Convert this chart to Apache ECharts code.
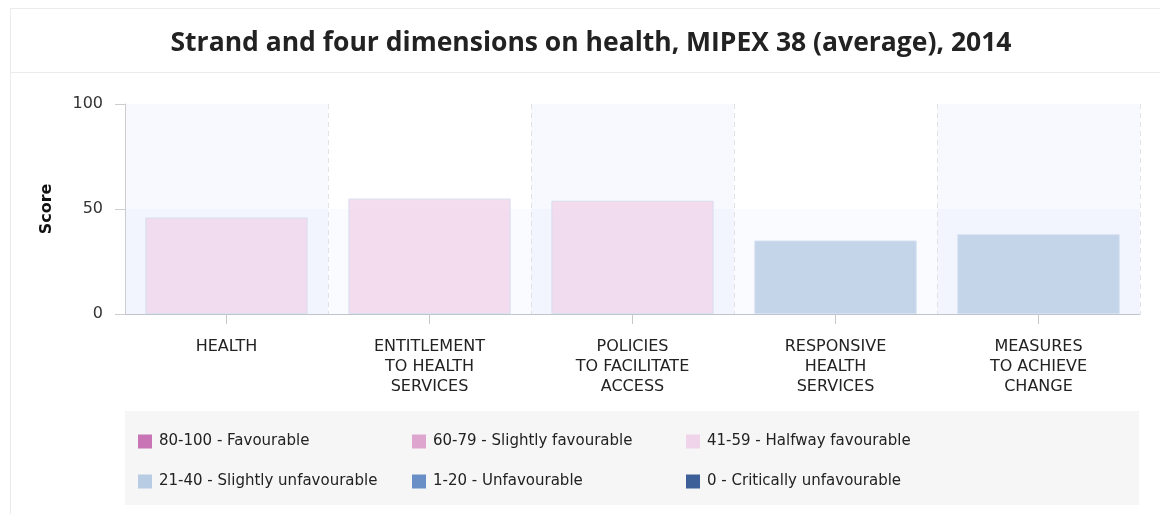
<!DOCTYPE html>
<html>
<head>
<meta charset="utf-8">
<script src="https://cdn.jsdelivr.net/npm/echarts@6/dist/echarts.min.js"></script>
<style>
  html, body { margin: 0; padding: 0; background: #fff; }
  #chart { width: 1160px; height: 514px; }
</style>
</head>
<body>
<div id="chart"></div>
<script>
// ---- data ----
var categories = [
  'HEALTH',
  'ENTITLEMENT\nTO HEALTH\nSERVICES',
  'POLICIES\nTO FACILITATE\nACCESS',
  'RESPONSIVE\nHEALTH\nSERVICES',
  'MEASURES\nTO ACHIEVE\nCHANGE'
];
var scores = [46, 55, 54, 35, 38];
var yTicks = [0, 50, 100];

var legendLabels = [
  '80-100 - Favourable',
  '60-79 - Slightly favourable',
  '41-59 - Halfway favourable',
  '21-40 - Slightly unfavourable',
  '1-20 - Unfavourable',
  '0 - Critically unfavourable'
];
var rangeMin = [80, 60, 41, 21, 1, 0];
var rangeMax = [100, 79, 59, 40, 20, 0];
var legendColors = ['#c974b4', '#dea6cf', '#f0d4ea', '#b8cce4', '#6a8fc6', '#3d6098'];

var titleText = 'Strand and four dimensions on health, MIPEX 38 (average), 2014';

// ---- chart ----
var chart = echarts.init(document.getElementById('chart'), null, { renderer: 'canvas' });

var pieces = rangeMin.map(function (mn, i) {
  return { gte: mn - 0.5, lt: rangeMax[i] + 0.5, color: legendColors[i], label: legendLabels[i] };
});

var graphics = [
  { type: 'rect', silent: true, z: -10, shape: { x: 10.5, y: 8.5, width: 1170, height: 560 },
    style: { fill: '#fff', stroke: '#ebebeb', lineWidth: 1 } },
  { type: 'line', silent: true, z: -9, shape: { x1: 10.5, y1: 72.5, x2: 1160, y2: 72.5 },
    style: { stroke: '#ebebeb', lineWidth: 1 } },
  { type: 'rect', silent: true, z: -8, shape: { x: 125, y: 411, width: 1014, height: 94 },
    style: { fill: '#f6f6f6' } }
];
legendLabels.forEach(function (lab, i) {
  var col = i % 3, row = Math.floor(i / 3);
  var x = 138 + col * 274, yc = 441.5 + row * 40;
  graphics.push({ type: 'rect', silent: true, shape: { x: x, y: yc - 7, width: 14, height: 14 },
    style: { fill: legendColors[i] } });
  graphics.push({ type: 'text', silent: true, x: x + 21, y: yc,
    style: { text: lab, fill: '#222', font: '15px "DejaVu Sans"', verticalAlign: 'middle', align: 'left' } });
});

var option = {
  animation: false,
  backgroundColor: '#fff',
  title: {
    text: titleText,
    left: 586,
    textAlign: 'center',
    top: 25,
    padding: 5,
    textStyle: { fontFamily: '"Open Sans"', fontWeight: 'bold', fontSize: 26.5, color: '#222' }
  },
  grid: { left: 125, right: 20, top: 104, bottom: 200, containLabel: false },
  xAxis: {
    type: 'category',
    data: categories,
    axisLine: { show: true, lineStyle: { color: '#c0c4cc', width: 1 } },
    axisTick: { show: true, alignWithLabel: true, length: 10, lineStyle: { color: '#c8c8c8' } },
    axisLabel: { interval: 0, margin: 23, color: '#222', fontFamily: '"DejaVu Sans"', fontSize: 16, lineHeight: 20 },
    splitLine: { show: true, lineStyle: { color: '#e2e2e6', type: [5, 4], width: 1 } },
    splitArea: { show: true, areaStyle: { color: ['rgba(200,210,245,0.13)', 'rgba(255,255,255,0)'] } }
  },
  yAxis: {
    type: 'value',
    min: yTicks[0],
    max: yTicks[yTicks.length - 1],
    interval: yTicks[1] - yTicks[0],
    name: 'Score',
    nameLocation: 'middle',
    nameGap: 70,
    nameTextStyle: { fontFamily: '"DejaVu Sans"', fontWeight: 'bold', fontSize: 16, color: '#111' },
    axisLine: { show: true, lineStyle: { color: '#ccc' } },
    axisTick: { show: true, length: 10, lineStyle: { color: '#ccc' } },
    axisLabel: { margin: 22, color: '#333', fontFamily: '"DejaVu Sans"', fontSize: 16 },
    splitLine: { show: false },
    splitArea: { show: true, areaStyle: { color: ['rgba(190,215,240,0.09)', 'rgba(255,255,255,0)'] } }
  },
  visualMap: {
    type: 'piecewise',
    show: false,
    dimension: 1,
    seriesIndex: 0,
    pieces: pieces
  },
  series: [{
    type: 'bar',
    data: scores,
    barWidth: '80%',
    itemStyle: { borderColor: '#d3e0f0', borderWidth: 1, opacity: 0.8 },
    emphasis: { disabled: true }
  }],
  graphic: graphics
};
chart.setOption(option);
</script>
</body>
</html>
